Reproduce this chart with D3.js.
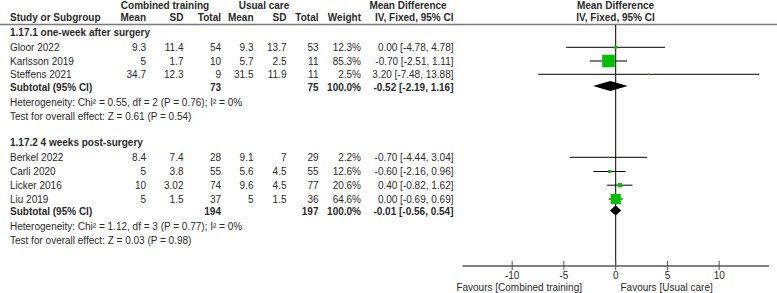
<!DOCTYPE html>
<html><head><meta charset="utf-8">
<script src="https://cdn.jsdelivr.net/npm/d3@7"></script>
<style>body{margin:0;background:#fff}svg{display:block}text{font-family:"Liberation Sans",Arial,sans-serif;font-size:10px;fill:#2a2a2a}</style>
</head><body><svg id="c" width="777" height="293"></svg>
<script>
const groups = ["1.17.1 one-week after surgery", "1.17.2 4 weeks post-surgery"];
const studies = ["Gloor 2022","Karlsson 2019","Steffens 2021","Berkel 2022","Carli 2020","Licker 2016","Liu 2019"];
const studyGroup = [0,0,0,1,1,1,1];
const ctMean = ["9.3","5","34.7","8.4","5","10","5"];
const ctSD = ["11.4","1.7","12.3","7.4","3.8","3.02","1.5"];
const ctTotal = [54,10,9,28,55,74,37];
const ucMean = ["9.3","5.7","31.5","9.1","5.6","9.6","5"];
const ucSD = ["13.7","2.5","11.9","7","4.5","4.5","1.5"];
const ucTotal = [53,11,11,29,55,77,36];
const weights = [12.3,85.3,2.5,2.2,12.6,20.6,64.6];
const md = [0.00,-0.70,3.20,-0.70,-0.60,0.40,0.00];
const lo = [-4.78,-2.51,-7.48,-4.44,-2.16,-0.82,-0.69];
const hi = [4.78,1.11,13.88,3.04,0.96,1.62,0.69];
const subCt = [73,194];
const subUc = [75,197];
const subMd = [-0.52,-0.01];
const subLo = [-2.19,-0.56];
const subHi = [1.16,0.54];
const hetText = ["Heterogeneity: Chi\u00b2 = 0.55, df = 2 (P = 0.76); I\u00b2 = 0%","Heterogeneity: Chi\u00b2 = 1.12, df = 3 (P = 0.77); I\u00b2 = 0%"];
const effText = ["Test for overall effect: Z = 0.61 (P = 0.54)","Test for overall effect: Z = 0.03 (P = 0.98)"];
const ticks = [-10,-5,0,5,10];
const favLeft = "Favours [Combined training]";
const favRight = "Favours [Usual care]";

const svg = d3.select("#c");
const x = d3.scaleLinear().domain([-10,10]).range([512.2,719.2]);
const sz = d3.scalePow().exponent(0.75).domain([0,85.3]).range([0,12.5]);
const fmt = v => v.toFixed(2);
const ci = (m,l,h) => `${fmt(m)} [${fmt(l)}, ${fmt(h)}]`;

function t(xp,yp,s,anchor,bold){
  return svg.append("text").attr("x",xp).attr("y",yp).attr("dy","0.35em")
    .attr("text-anchor",anchor||"start").attr("font-weight",bold?"bold":null).text(s);
}
const col = {study:10, cm:146, csd:183.5, ctot:221, um:253.5, usd:286.5, utot:318.5, w:361, ci:453.5};

// headers
t(165,5,"Combined training","middle",true);
t(264,5,"Usual care","middle",true);
t(408,5,"Mean Difference","middle",true);
t(615.5,5,"Mean Difference","middle",true);
t(col.study,17.7,"Study or Subgroup","start",true);
t(col.cm,17.7,"Mean","end",true);
t(col.csd,17.7,"SD","end",true);
t(col.ctot,17.7,"Total","end",true);
t(col.um,17.7,"Mean","end",true);
t(col.usd,17.7,"SD","end",true);
t(col.utot,17.7,"Total","end",true);
t(col.w,17.7,"Weight","end",true);
t(col.ci,17.7,"IV, Fixed, 95% CI","end",true);
t(615.5,17.7,"IV, Fixed, 95% CI","middle",true);
svg.append("line").attr("x1",0).attr("x2",777).attr("y1",24.5).attr("y2",24.5).attr("stroke","#7a7a7a").attr("stroke-width",1.5);

// zero line
svg.append("line").attr("x1",x(0)).attr("x2",x(0)).attr("y1",25).attr("y2",267).attr("stroke","#000").attr("stroke-width",1);

const groupY = [{head:32.7, rows:[47.3,61,74.3], sub:87.7, het:102.7, eff:116},
                {head:142.7, rows:[157.3,171.5,185.2,199], sub:211, het:226, eff:240}];

groups.forEach((g,gi)=>{
  const L = groupY[gi];
  t(col.study,L.head,g,"start",true);
  const idx = studies.map((s,i)=>i).filter(i=>studyGroup[i]===gi);
  idx.forEach((i,k)=>{
    const y = L.rows[k];
    t(col.study,y,studies[i]);
    t(col.cm,y,ctMean[i],"end");
    t(col.csd,y,ctSD[i],"end");
    t(col.ctot,y,ctTotal[i],"end");
    t(col.um,y,ucMean[i],"end");
    t(col.usd,y,ucSD[i],"end");
    t(col.utot,y,ucTotal[i],"end");
    t(col.w,y,weights[i].toFixed(1)+"%","end");
    t(col.ci,y,ci(md[i],lo[i],hi[i]),"end");
    svg.append("line").attr("x1",x(lo[i])).attr("x2",x(hi[i])).attr("y1",y).attr("y2",y).attr("stroke","#000").attr("stroke-width",1);
    const s = Math.max(1.5,sz(weights[i]));
    svg.append("rect").attr("x",x(md[i])-s/2).attr("y",y-s/2).attr("width",s).attr("height",s).attr("fill","#00c000");
  });
  t(col.study,L.sub,"Subtotal (95% CI)","start",true);
  t(col.ctot,L.sub,subCt[gi],"end",true);
  t(col.utot,L.sub,subUc[gi],"end",true);
  t(col.w,L.sub,"100.0%","end",true);
  t(col.ci,L.sub,ci(subMd[gi],subLo[gi],subHi[gi]),"end",true);
  const dy = gi===0?86:210.5, h=5;
  svg.append("path").attr("d",`M${x(subLo[gi])},${dy}L${x(subMd[gi])},${dy-h}L${x(subHi[gi])},${dy}L${x(subMd[gi])},${dy+h}Z`).attr("fill","#000");
  t(col.study,L.het,hetText[gi]);
  t(col.study,L.eff,effText[gi]);
});

// axis
const ay = 266;
svg.append("line").attr("x1",x(-14.8)).attr("x2",x(14.8)).attr("y1",ay).attr("y2",ay).attr("stroke","#808080").attr("stroke-width",2);
ticks.forEach(v=>{
  svg.append("line").attr("x1",x(v)).attr("x2",x(v)).attr("y1",ay-5).attr("y2",ay+4).attr("stroke","#555").attr("stroke-width",1);
  t(x(v),275.5,String(v),"middle");
});
t(582,287.3,favLeft,"end");
t(620.5,287.3,favRight,"start");
</script></body></html>
